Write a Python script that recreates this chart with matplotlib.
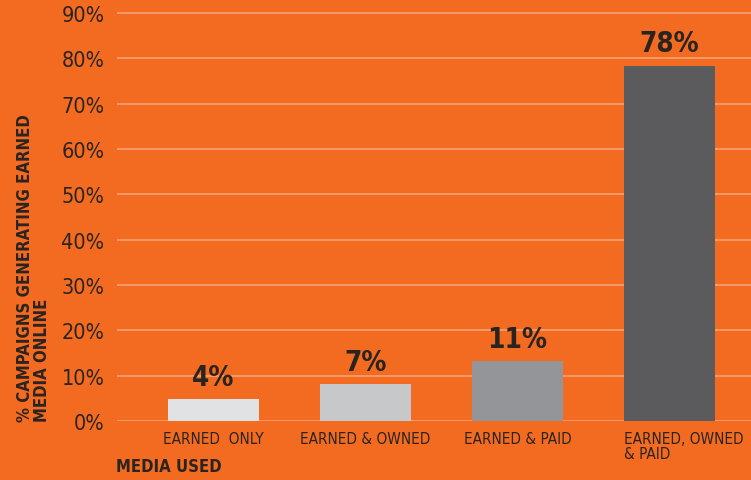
import matplotlib.pyplot as plt

categories = ["EARNED  ONLY", "EARNED & OWNED", "EARNED & PAID", "EARNED, OWNED\n& PAID"]
bar_heights = [4.9, 8.2, 13.2, 78.4]
value_labels = ["4%", "7%", "11%", "78%"]
bar_colors = ["#e1e2e4", "#c7c8ca", "#939598", "#5b5b5d"]
yticks = [0, 10, 20, 30, 40, 50, 60, 70, 80, 90]

orange = "#f26b21"
ink = "#2a2420"
plt.rcParams['font.family'] = ['DejaVu Sans']

fig = plt.figure(figsize=(7.51, 4.81), dpi=100, facecolor=orange)
ax = fig.add_axes([117 / 751, 1 - 422 / 481, 634 / 751, 422 / 481])
ax.set_facecolor(orange)

x = list(range(len(categories)))
ax.bar(x, bar_heights, width=0.6, color=bar_colors, zorder=3)

for xi, h, lab in zip(x, bar_heights, value_labels):
    ax.text(xi, h + 1.8, lab, ha='center', va='bottom', fontsize=20,
            fontweight='bold', fontstretch='condensed', color=ink)

ax.set_xlim(-0.635, 3.536)
ax.set_ylim(0, 93.1)
ax.set_yticks(yticks)
ax.set_yticklabels([f"{t}%" for t in yticks], fontsize=15.5, color=ink,
                   fontstretch='condensed')
ax.tick_params(axis='y', length=0, pad=9)
ax.set_xticks([])
for t in yticks:
    ax.axhline(t, color="#f7a174", lw=1.2, zorder=1)
for s in ax.spines.values():
    s.set_visible(False)

# category labels under the bars
for xi, cat in zip(x, categories):
    if "\n" in cat:
        ax.text(xi - 0.3, -2.3, cat, ha='left', va='top', fontsize=11,
                color=ink, linespacing=1.0, fontstretch='condensed')
    else:
        ax.text(xi, -2.3, cat, ha='center', va='top', fontsize=11, color=ink,
                fontstretch='condensed')

fig.text(16 / 751, 1 - 422 / 481, "% CAMPAIGNS GENERATING EARNED\nMEDIA ONLINE",
         rotation=90, ha='left', va='bottom', fontsize=12, fontweight='bold',
         fontstretch='condensed', color=ink, linespacing=0.9)
fig.text(116 / 751, 1 - 476 / 481, "MEDIA USED", ha='left', va='bottom',
         fontsize=12, fontweight='bold', fontstretch='condensed', color=ink)

fig.savefig("out.png", dpi=100, facecolor=orange)
